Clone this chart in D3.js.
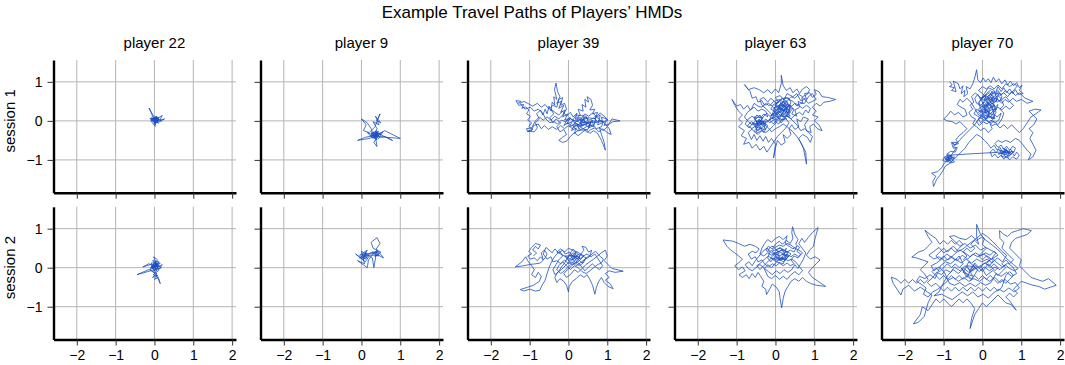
<!DOCTYPE html>
<html>
<head>
<meta charset="utf-8">
<script src="https://cdn.jsdelivr.net/npm/d3@7"></script>
<style>
  body { margin: 0; background: #fff; }
  svg { font-family: "Liberation Sans", Arial, sans-serif; }
</style>
</head>
<body>
<svg id="chart" width="1065" height="365"></svg>
<script>
// chart data
var chartTitle = "Example Travel Paths of Players\u2019 HMDs";
var players = ["player 22", "player 9", "player 39", "player 63", "player 70"];
var sessions = ["session 1", "session 2"];
var xTicks = [-2, -1, 0, 1, 2];
var yTicks = [-1, 0, 1];

// travel paths, "x,y" pairs (session 1 then session 2)
var p22s1 = "0.00,0.02 0.05,0.08 -0.03,0.05 0.08,-0.02 0.02,0.10 -0.08,0.04 0.10,0.05 0.04,-0.06 -0.05,0.00 0.12,0.08 0.00,0.04 -0.12,0.06 0.06,0.00 0.02,-0.10 -0.02,0.12 -0.14,0.33 -0.04,0.10 0.08,0.06 0.20,0.14 0.14,0.02 0.26,0.05 0.10,-0.04 0.04,0.06 -0.06,-0.04 0.02,-0.14 0.00,0.02 0.08,0.10 -0.10,0.02 0.05,0.03 0.18,0.00 0.06,0.09 -0.04,0.06 0.10,-0.06 0.02,0.00 -0.08,0.08 0.07,0.04 0.00,-0.04 0.04,0.12 -0.02,0.02 0.12,0.03 0.03,-0.02 -0.06,0.07 0.09,0.01 0.01,0.08 -0.09,-0.02 0.06,0.11 0.11,-0.01 -0.02,-0.06 0.03,0.05 -0.07,0.01 0.08,0.04 0.00,0.09 0.05,-0.03";
var p9s1 = "0.30,-0.35 0.42,-0.30 0.35,-0.45 0.25,-0.32 0.45,-0.40 0.38,-0.25 0.28,-0.42 0.50,-0.35 0.34,-0.30 0.40,-0.48 0.22,-0.38 0.36,-0.36 0.55,-0.28 0.44,-0.46 0.30,-0.28 0.38,-0.40 1.00,-0.45 0.60,-0.25 0.45,-0.35 0.32,-0.55 0.40,-0.66 0.36,-0.40 0.20,-0.45 -0.10,-0.50 0.10,-0.42 0.30,-0.38 0.25,-0.20 0.15,-0.05 0.00,0.05 0.12,-0.10 0.05,-0.25 0.20,-0.30 0.35,-0.15 0.42,0.05 0.48,0.18 0.40,0.00 0.50,-0.05 0.36,0.12 0.45,-0.10 0.30,-0.02 0.40,-0.20 0.35,-0.32 0.48,-0.42 0.60,-0.40 0.80,-0.50 0.55,-0.38 0.40,-0.30 0.30,-0.45 0.15,-0.30 0.34,-0.38 0.44,-0.26 0.32,-0.34 0.28,-0.38 0.38,-0.33 0.33,-0.42 0.42,-0.36 0.26,-0.30 0.36,-0.28 0.46,-0.32 0.34,-0.40";
var p39s1 = "-1.30,0.45 -1.22,0.50 -1.35,0.52 -1.28,0.40 -1.15,0.42 -1.20,0.32 -1.10,0.36 -1.02,0.28 -1.08,0.18 -0.98,0.12 -1.05,0.02 -0.95,-0.05 -1.02,-0.15 -0.92,-0.22 -1.05,-0.26 -0.88,-0.28 -0.80,-0.18 -0.85,-0.05 -0.75,0.05 -0.82,0.18 -0.72,0.28 -0.66,0.15 -0.60,0.30 -0.55,0.18 -0.50,0.38 -0.45,0.25 -0.42,0.48 -0.35,0.40 -0.38,0.62 -0.30,0.55 -0.36,0.80 -0.32,0.97 -0.28,0.75 -0.22,0.62 -0.30,0.45 -0.18,0.50 -0.25,0.32 -0.12,0.40 -0.20,0.22 -0.08,0.28 -0.15,0.10 -0.02,0.18 -0.10,0.02 0.05,0.08 -0.05,-0.08 0.10,-0.02 0.02,-0.15 0.15,-0.10 0.08,-0.25 0.20,-0.18 0.15,-0.32 0.28,-0.22 0.22,-0.08 0.35,-0.12 0.30,0.02 0.42,-0.05 0.38,0.10 0.50,0.05 0.45,-0.10 0.58,-0.02 0.52,-0.18 0.65,-0.12 0.60,0.02 0.72,-0.05 0.68,0.12 0.80,0.05 0.75,-0.10 0.88,-0.05 0.85,0.10 0.98,0.05 0.92,-0.12 1.05,-0.08 1.15,-0.02 1.33,0.00 1.12,0.05 1.00,-0.15 0.90,-0.25 0.80,-0.18 0.85,-0.35 0.92,-0.55 0.95,-0.75 0.85,-0.50 0.75,-0.32 0.65,-0.25 0.55,-0.32 0.45,-0.22 0.35,-0.30 0.25,-0.38 0.15,-0.30 0.05,-0.40 -0.05,-0.52 -0.15,-0.55 -0.25,-0.50 -0.15,-0.42 -0.05,-0.35 -0.12,-0.22 -0.22,-0.28 -0.30,-0.15 -0.20,-0.05 -0.32,0.05 -0.40,-0.05 -0.48,0.08 -0.38,0.18 -0.45,0.30 -0.35,0.22 -0.25,0.15 -0.15,0.25 -0.05,0.12 0.05,0.22 0.12,0.10 0.22,0.20 0.18,0.05 0.30,0.15 0.25,0.30 0.38,0.25 0.35,0.42 0.45,0.35 0.42,0.55 0.52,0.48 0.48,0.62 0.58,0.55 0.62,0.40 0.55,0.28 0.68,0.30 0.62,0.18 0.75,0.22 0.70,0.08 0.82,0.15 0.78,0.00 0.90,-0.02 0.85,-0.15 0.72,-0.20 0.62,-0.10 0.50,-0.15 0.40,-0.08 0.28,-0.12 0.18,-0.05 0.08,-0.12 -0.02,-0.05 -0.12,-0.12 -0.05,0.00 0.05,0.05 0.15,0.00 0.25,0.08 0.35,0.00 0.45,0.10 0.55,0.02 0.65,0.08 0.75,-0.02 0.85,0.02 0.95,-0.08 1.05,-0.20 1.10,-0.35 1.00,-0.30 0.88,-0.20 0.78,-0.28 0.68,-0.18 0.58,-0.22 0.48,-0.30 0.40,-0.20 0.30,-0.22 0.20,-0.12 0.10,-0.20 0.00,-0.12 -0.10,-0.20 -0.20,-0.12 -0.30,-0.22 -0.42,-0.15 -0.52,-0.22 -0.62,-0.12 -0.70,-0.20 -0.78,-0.08 -0.90,-0.12 -0.95,-0.25 -1.05,-0.28 -1.08,-0.20 -0.95,-0.18 -0.85,0.00 -0.75,0.10 -0.65,0.02 -0.55,0.10 -0.45,0.02 -0.35,0.12 -0.25,0.05 -0.15,0.15 -0.05,0.30 -0.10,0.45 -0.20,0.40 -0.15,0.60 -0.25,0.55 -0.30,0.35 -0.40,0.40 -0.50,0.30 -0.60,0.42 -0.70,0.35 -0.80,0.45 -0.92,0.38 -1.05,0.45 -1.15,0.50 -1.25,0.45 -1.12,0.30 -0.98,0.35 -0.88,0.25 -0.78,0.30 -0.68,0.22 -0.58,0.05 -0.48,-0.05 -0.38,-0.02 -0.28,-0.08 -0.18,0.02 -0.08,-0.02 0.02,0.08 0.12,0.02 0.22,-0.02 0.32,0.05 0.42,0.18 0.52,0.12 0.62,0.20 0.72,0.12 0.82,0.20 0.92,0.12 1.02,0.02 0.95,-0.02";
var p39s1Core = "0.30,-0.05 0.40,0.05 0.22,0.02 0.35,-0.12 0.48,-0.05 0.28,0.10 0.15,-0.08 0.38,-0.20 0.55,-0.10 0.45,0.12 0.20,0.15 0.10,0.00 0.32,-0.15 0.60,0.00 0.50,-0.22 0.25,-0.25 0.12,-0.15 0.42,-0.02 0.65,-0.15 0.70,0.05 0.52,0.08 0.35,0.02";
var p63s1 = "0.10,0.20 0.20,0.30 0.05,0.35 0.15,0.45 0.25,0.38 0.30,0.25 0.18,0.15 0.28,0.05 0.12,0.02 0.02,0.12 -0.08,0.05 -0.02,0.25 -0.12,0.30 -0.05,0.42 0.08,0.48 0.00,0.60 0.12,0.65 0.20,0.55 0.32,0.60 0.40,0.48 0.35,0.35 0.48,0.30 0.42,0.18 0.55,0.12 0.50,0.28 0.62,0.35 0.58,0.50 0.70,0.45 0.68,0.60 0.80,0.55 0.75,0.70 0.88,0.72 0.95,0.60 1.05,0.68 1.00,0.80 1.12,0.75 1.20,0.62 1.35,0.60 1.55,0.55 1.40,0.50 1.25,0.48 1.15,0.38 1.05,0.45 0.95,0.35 1.05,0.25 0.95,0.15 1.10,0.10 1.00,0.00 1.12,-0.10 1.20,-0.25 1.08,-0.20 0.98,-0.08 0.88,-0.15 0.92,-0.30 0.80,-0.25 0.75,-0.10 0.85,0.05 0.72,0.10 0.65,-0.02 0.55,0.05 0.60,-0.15 0.50,-0.22 0.42,-0.10 0.35,-0.20 0.40,-0.35 0.30,-0.45 0.20,-0.35 0.25,-0.55 0.15,-0.62 0.05,-0.50 0.00,-0.70 -0.05,-0.95 0.00,-0.60 -0.10,-0.45 -0.18,-0.55 -0.25,-0.40 -0.32,-0.52 -0.40,-0.38 -0.48,-0.50 -0.55,-0.35 -0.62,-0.48 -0.70,-0.30 -0.60,-0.20 -0.72,-0.12 -0.62,-0.02 -0.50,-0.10 -0.42,0.02 -0.35,-0.12 -0.25,-0.05 -0.30,-0.22 -0.40,-0.18 -0.50,-0.28 -0.45,-0.05 -0.55,0.05 -0.48,0.15 -0.38,0.08 -0.30,0.18 -0.20,0.10 -0.25,0.25 -0.35,0.30 -0.45,0.25 -0.55,0.35 -0.65,0.28 -0.72,0.40 -0.82,0.30 -0.90,0.42 -1.00,0.38 -1.12,0.55 -1.05,0.40 -0.95,0.25 -0.85,0.15 -0.95,0.05 -0.85,-0.05 -0.95,-0.15 -0.80,-0.25 -0.88,-0.38 -0.75,-0.45 -0.82,-0.60 -0.68,-0.55 -0.60,-0.70 -0.50,-0.60 -0.40,-0.75 -0.30,-0.65 -0.22,-0.80 -0.15,-0.70 -0.05,-0.55 0.05,-0.40 0.15,-0.30 0.25,-0.20 0.35,-0.05 0.25,0.08 0.15,-0.05 0.05,0.05 -0.05,-0.08 -0.15,0.02 -0.10,0.15 0.00,0.22 0.10,0.10 0.22,0.22 0.12,0.32 0.02,0.28 -0.08,0.38 -0.18,0.45 -0.28,0.40 -0.35,0.52 -0.45,0.48 -0.50,0.62 -0.60,0.58 -0.65,0.75 -0.80,0.93 -0.70,0.80 -0.55,0.85 -0.42,0.80 -0.30,0.72 -0.20,0.80 -0.10,0.70 0.00,0.82 0.08,0.72 0.15,0.95 0.15,1.17 0.20,0.90 0.28,0.78 0.38,0.85 0.45,0.72 0.55,0.82 0.62,0.70 0.70,0.82 0.80,0.88 0.88,0.80 0.82,0.68 0.70,0.62 0.60,0.68 0.50,0.58 0.40,0.62 0.30,0.50 0.20,0.42 0.10,0.38 0.20,0.28 0.30,0.35 0.38,0.22 0.30,0.12 0.40,0.05 0.50,0.15 0.62,0.22 0.70,0.15 0.78,0.28 0.85,0.20 0.90,0.32 0.80,0.40 0.70,0.32 0.60,0.40 0.50,0.45 0.42,0.38 0.32,0.42 0.22,0.35 0.12,0.25 0.05,0.15 -0.05,0.18 -0.15,0.12 -0.22,0.20 -0.32,0.10 -0.40,-0.02 -0.50,-0.15 -0.58,-0.05 -0.68,-0.18 -0.78,-0.08 -0.70,0.05 -0.60,0.12 -0.50,0.05 -0.40,0.15 -0.35,0.02 -0.28,-0.10 -0.18,-0.18 -0.10,-0.28 0.00,-0.20 0.10,-0.15 0.20,-0.08 0.30,-0.15 0.45,-0.28 0.55,-0.40 0.65,-0.55 0.78,-0.80 0.80,-1.11 0.72,-0.70 0.60,-0.45 0.70,-0.35 0.82,-0.42 0.90,-0.55 0.95,-0.40 0.85,-0.30 0.75,-0.20 0.65,-0.25 0.55,-0.10 0.45,0.00 0.35,0.10 0.25,0.15 0.15,0.20 0.05,0.25 -0.05,0.32 0.05,0.40 0.15,0.32 0.25,0.45 0.10,0.55 -0.02,0.50 -0.12,0.58 -0.20,0.48 -0.30,0.60 -0.40,0.55 -0.35,0.40 -0.25,0.32 -0.15,0.22 -0.05,0.10 0.05,0.00 -0.05,-0.12 -0.15,-0.22 -0.25,-0.30 -0.35,-0.25 -0.45,-0.35 -0.55,-0.25 -0.45,-0.15 -0.35,-0.05 -0.25,0.05 -0.15,-0.05 -0.05,0.02 0.08,-0.08 0.18,0.05 0.28,0.15 0.35,0.28 0.25,0.30 0.15,0.40 0.30,0.70 0.45,0.62 0.55,0.70 0.65,0.52 0.75,0.55 0.85,0.45 0.95,0.50 1.05,0.55 0.95,0.70 0.85,0.62 0.75,0.45 0.65,0.45 0.55,0.38 0.45,0.50 0.35,0.55 0.25,0.60 0.15,0.55 0.05,0.45 -0.05,0.50 -0.15,0.38 -0.25,0.45 -0.35,0.35 -0.45,0.38 -0.55,0.45 -0.62,0.30 -0.72,0.22 -0.80,0.10 -0.70,-0.02 -0.60,-0.10 -0.52,0.00 -0.42,-0.08 -0.32,-0.02 -0.20,0.00 -0.10,0.08 0.00,0.02 0.12,0.15 0.22,0.10";
var p63s1Core = "0.22,0.10 0.14,0.18 0.25,0.26 0.08,0.30 0.18,0.40 0.30,0.33 0.12,0.22 0.02,0.35 0.20,0.48 0.33,0.40 0.26,0.18 0.38,0.28 0.28,0.52 0.12,0.44 0.05,0.20 -0.06,0.28 0.06,0.10 0.18,0.02 0.30,0.14 0.40,0.38 0.22,0.36 0.10,0.52 -0.02,0.40 0.15,0.30 0.35,0.20 0.45,0.32 0.32,0.45 0.18,0.58 0.05,0.48 -0.08,0.18 0.10,0.05 0.24,0.30 0.38,0.12 0.16,0.12 0.00,0.25 0.12,0.38 0.28,0.42 -0.05,0.10 -0.20,-0.02 -0.40,-0.10 -0.30,-0.02 -0.48,0.00 -0.35,-0.20 -0.52,-0.15 -0.42,0.05 -0.28,-0.12 -0.45,-0.25 -0.58,-0.08 -0.38,-0.05 -0.25,-0.20 -0.50,-0.32 -0.62,-0.20 -0.45,-0.10 -0.32,0.08 -0.55,0.10 -0.40,-0.18 -0.30,-0.30 -0.20,-0.12 -0.35,0.00 -0.50,-0.05";
var p70s1 = "-0.84,1.00 -0.78,0.92 -0.85,0.88 -0.72,0.85 -0.80,0.78 -0.68,0.75 -0.75,1.02 -0.62,0.95 -0.58,0.82 -0.50,0.90 -0.55,0.70 -0.45,0.78 -0.48,0.62 -0.38,0.70 -0.42,0.88 -0.32,0.82 -0.25,0.95 -0.20,1.10 -0.15,1.31 -0.12,1.05 -0.05,0.98 0.02,1.10 0.08,1.00 0.15,1.08 0.22,0.98 0.28,1.12 0.35,1.00 0.42,1.08 0.50,0.95 0.58,1.05 0.65,0.92 0.72,1.02 0.80,0.90 0.88,0.98 0.95,0.85 1.02,0.92 0.95,0.78 1.05,0.70 0.92,0.68 0.85,0.80 0.78,0.70 0.70,0.82 0.62,0.72 0.55,0.85 0.48,0.75 0.40,0.88 0.35,0.75 0.45,0.65 0.55,0.72 0.65,0.62 0.75,0.75 0.85,0.65 0.95,0.72 1.10,0.58 1.30,0.50 1.15,0.45 1.00,0.55 0.88,0.50 0.78,0.58 0.68,0.48 0.58,0.55 0.50,0.45 0.40,0.55 0.30,0.48 0.22,0.60 0.12,0.52 0.05,0.65 -0.05,0.55 -0.12,0.68 -0.20,0.58 -0.15,0.45 -0.05,0.40 0.05,0.48 0.15,0.38 0.25,0.45 0.32,0.35 0.40,0.42 0.35,0.28 0.25,0.30 0.15,0.22 0.05,0.30 -0.05,0.22 -0.15,0.30 -0.22,0.18 -0.12,0.12 -0.02,0.05 0.08,0.15 0.18,0.08 0.28,0.18 0.38,0.10 0.48,0.20 0.42,0.02 0.32,-0.05 0.22,0.02 0.12,-0.08 0.02,-0.02 -0.08,-0.12 -0.15,-0.02 -0.05,0.10 0.05,0.00 0.15,0.12 0.25,0.05 0.35,0.22 0.28,0.40 0.18,0.32 0.08,0.42 -0.02,0.35 -0.10,0.48 0.00,0.58 0.10,0.70 0.20,0.78 0.30,0.68 0.40,0.78 0.50,0.62 0.45,0.50 0.35,0.58 0.25,0.50 0.15,0.60 0.05,0.52 -0.08,0.62 -0.18,0.72 -0.28,0.62 -0.22,0.48 -0.32,0.40 -0.25,0.30 -0.35,0.22 -0.28,0.10 -0.18,0.05 -0.25,-0.08 -0.15,-0.15 -0.05,-0.25 0.05,-0.18 0.15,-0.30 0.25,-0.20 0.20,-0.08 0.30,0.00 0.40,-0.10 0.50,0.05 0.55,0.20 0.45,0.30 0.55,0.40 0.48,0.55 0.38,0.48 0.28,0.55 0.18,0.45 0.08,0.35 -0.02,0.25 0.08,0.20 0.18,0.28 0.12,0.05 0.02,0.10 -0.10,0.15 -0.20,0.32 -0.30,0.48 -0.40,0.58 -0.50,0.48 -0.58,0.55 -0.65,0.42 -0.55,0.35 -0.45,0.30 -0.40,0.15 -0.50,0.10 -0.62,0.22 -0.72,0.15 -0.82,0.25 -0.92,0.12 -1.00,0.05 -0.90,0.00 -0.78,-0.02 -0.68,-0.08 -0.58,-0.02 -0.48,-0.12 -0.40,-0.20 -0.50,-0.30 -0.60,-0.38 -0.68,-0.48 -0.62,-0.58 -0.72,-0.62 -0.80,-0.55 -0.75,-0.70 -0.65,-0.68 -0.70,-0.80 -0.82,-0.78 -0.92,-0.85 -0.85,-0.95 -0.98,-0.92 -1.02,-1.02 -0.90,-1.05 -0.80,-0.98 -0.72,-1.05 -0.82,-1.08 -0.95,-1.00 -0.88,-0.90 -0.78,-0.92 -0.88,-1.00 -0.98,-1.08 -1.05,-1.20 -1.15,-1.30 -1.31,-1.34 -1.20,-1.42 -1.28,-1.55 -1.26,-1.68 -1.18,-1.50 -1.10,-1.40 -1.02,-1.28 -0.95,-1.15 -0.85,-1.10 -0.75,-1.00 -0.65,-0.90 -0.55,-0.80 -0.45,-0.70 -0.35,-0.55 -0.25,-0.45 -0.15,-0.35 -0.05,-0.40 0.05,-0.50 0.15,-0.60 0.22,-0.70 0.30,-0.62 0.38,-0.75 0.45,-0.68 0.52,-0.80 0.60,-0.72 0.68,-0.85 0.75,-0.78 0.82,-0.90 0.88,-0.80 0.95,-0.88 0.88,-0.98 0.78,-0.92 0.70,-1.00 0.62,-0.90 0.55,-0.98 0.48,-0.88 0.40,-0.95 0.32,-0.85 0.25,-0.92 0.20,-0.80 0.28,-0.72 0.35,-0.82 0.42,-0.72 0.50,-0.85 0.58,-0.78 0.65,-0.90 0.72,-0.72 0.80,-0.82 0.85,-0.70 0.78,-0.65 0.70,-0.75 0.62,-0.65 0.55,-0.72 0.48,-0.62 0.40,-0.68 0.32,-0.58 0.40,-0.50 0.50,-0.55 0.60,-0.50 0.72,-0.55 0.85,-0.45 0.95,-0.50 1.05,-0.62 1.15,-0.75 1.25,-0.85 1.18,-1.00 1.30,-0.92 1.38,-0.75 1.30,-0.60 1.22,-0.45 1.30,-0.30 1.20,-0.20 1.32,-0.10 1.40,0.05 1.30,0.15 1.20,0.25 1.35,0.30 1.51,0.28 1.40,0.20 1.25,0.10 1.15,-0.05 1.05,-0.20 0.95,-0.30 0.85,-0.20 0.75,-0.10 0.65,-0.20 0.55,-0.10 0.45,-0.18 0.35,-0.08 0.25,-0.12 0.15,-0.02 0.05,0.05 -0.05,-0.05 -0.10,0.05 0.00,0.15 0.10,0.25 0.20,0.18 0.30,0.28 0.40,0.35 0.50,0.28 0.60,0.38 0.70,0.30 0.80,0.40 0.70,0.50 0.60,0.62 0.50,0.55 0.40,0.65 0.30,0.58 0.20,0.68 0.10,0.60 0.00,0.70 -0.10,0.78 0.00,0.88 0.10,0.82 0.20,0.90 0.30,0.82 0.40,0.92 0.50,0.82 0.60,0.95 0.70,0.88 0.80,0.95 0.90,0.90 0.80,0.78 0.70,0.68 0.60,0.78 0.50,0.68 0.40,0.72 0.30,0.62 0.20,0.50 0.10,0.42 0.00,0.32 -0.10,0.22 0.00,0.12 0.10,0.02 0.20,-0.05 0.30,0.08 0.20,0.12 0.10,0.20 0.00,0.40 -0.10,0.30";
var p70s1Core = "0.10,0.05 0.18,0.20 0.05,0.35 0.22,0.48 0.12,0.62 0.28,0.72 0.15,0.55 0.30,0.40 0.18,0.28 0.02,0.45 0.10,0.65 -0.05,0.58 0.08,0.30 0.25,0.15 0.35,0.30 0.22,0.60 0.38,0.55 0.30,0.78 0.15,0.85 0.05,0.70 -0.10,0.45 0.00,0.20 0.12,0.10 0.28,0.25 0.20,0.42 0.35,0.50 0.42,0.68 0.25,0.75 0.10,0.52 0.22,0.35 0.05,0.25 0.15,0.12 0.32,0.05 0.25,0.38 0.12,0.48 0.30,0.62 0.18,0.72 0.02,0.62 0.15,0.40 -0.20,-0.10 -0.50,-0.40 -0.70,-0.62 -0.78,-0.55 -0.65,-0.55 -0.75,-0.65 -0.68,-0.70 -0.85,-0.95 -0.78,-0.88 -0.92,-0.90 -0.82,-1.02 -0.95,-0.98 -0.75,-0.95 -0.88,-0.85 -0.98,-0.95 -0.80,-1.05 -0.72,-0.92 -0.90,-1.00 -0.85,-0.88 -0.40,-0.85 0.50,-0.80 0.62,-0.75 0.55,-0.88 0.70,-0.82 0.45,-0.75 0.60,-0.92 0.75,-0.85 0.52,-0.70 0.68,-0.78 0.40,-0.85 0.58,-0.82 0.80,-0.78 0.65,-0.95 0.48,-0.90 0.62,-0.70";
var p22s2 = "0.00,0.00 0.08,0.10 -0.05,0.05 0.10,-0.05 0.02,0.15 -0.10,0.00 0.12,0.05 0.00,-0.08 -0.08,0.12 0.15,0.12 0.05,0.02 -0.12,-0.05 0.08,0.20 -0.02,0.28 0.05,0.10 0.18,0.00 0.00,-0.05 -0.45,-0.18 -0.15,-0.05 0.05,-0.15 -0.05,-0.25 0.08,-0.20 0.00,-0.30 0.10,-0.25 0.15,-0.41 0.05,-0.18 -0.05,-0.10 0.10,0.02 -0.05,0.18 0.12,0.15 0.02,0.05 -0.15,0.10 -0.30,0.02 -0.10,0.08 0.05,-0.02 0.20,0.08 0.08,-0.10 -0.02,0.02 0.06,0.12 -0.06,-0.02 0.10,0.06 0.00,0.10 0.04,-0.04 -0.04,0.08 0.09,0.03 -0.08,0.04 0.03,-0.12 -0.03,-0.18 0.06,-0.22 0.02,0.06 0.11,0.10 -0.02,0.13";
var p9s2 = "0.10,0.30 0.00,0.35 0.15,0.25 -0.05,0.25 0.12,0.40 0.05,0.20 -0.15,0.35 0.10,0.15 0.20,0.30 0.00,0.42 0.08,0.10 -0.10,0.18 0.15,0.00 0.18,0.20 0.30,0.35 0.40,0.45 0.35,0.28 0.45,0.38 0.28,0.40 0.40,0.30 0.50,0.40 0.30,0.50 0.25,0.65 0.40,0.77 0.48,0.62 0.38,0.48 0.57,0.25 0.38,0.35 0.32,0.00 0.28,0.25 0.12,0.35 0.05,0.28 0.15,0.45 -0.05,0.32 0.10,0.22 0.22,0.38 0.38,0.40 0.45,0.30 0.32,0.32 0.08,0.32 0.02,0.26 0.14,0.30 0.06,0.36 0.36,0.36 0.42,0.42 0.34,0.40";
var p39s2 = "-0.90,0.30 -0.82,0.38 -0.92,0.45 -0.85,0.55 -0.78,0.48 -0.72,0.58 -0.85,0.62 -0.95,0.52 -1.02,0.42 -0.95,0.35 -1.05,0.30 -0.98,0.22 -0.88,0.25 -0.80,0.18 -0.72,0.28 -0.65,0.20 -0.70,0.38 -0.62,0.45 -0.55,0.35 -0.60,0.25 -0.72,0.12 -0.85,0.10 -1.00,0.08 -1.15,0.05 -1.37,0.02 -1.20,0.15 -1.10,0.28 -1.05,0.18 -0.95,0.05 -0.88,-0.05 -0.95,-0.18 -0.85,-0.25 -0.78,-0.12 -0.70,-0.22 -0.75,-0.35 -0.90,-0.45 -1.05,-0.50 -1.24,-0.56 -1.15,-0.60 -1.00,-0.55 -0.85,-0.60 -0.74,-0.58 -0.68,-0.45 -0.60,-0.32 -0.55,-0.15 -0.50,0.00 -0.45,0.12 -0.38,0.25 -0.30,0.35 -0.22,0.42 -0.15,0.30 -0.25,0.20 -0.32,0.08 -0.40,-0.05 -0.35,-0.18 -0.25,-0.10 -0.18,0.02 -0.10,0.12 -0.02,0.25 0.05,0.38 0.12,0.48 0.20,0.40 0.15,0.28 0.25,0.22 0.32,0.35 0.40,0.45 0.35,0.55 0.45,0.52 0.52,0.40 0.60,0.45 0.55,0.30 0.45,0.25 0.38,0.12 0.28,0.05 0.18,0.12 0.08,0.05 -0.02,-0.05 -0.12,-0.15 -0.05,-0.25 0.05,-0.18 0.15,-0.05 0.25,-0.12 0.35,-0.02 0.45,0.08 0.55,0.15 0.65,0.22 0.75,0.30 0.85,0.38 0.95,0.45 1.00,0.30 0.92,0.18 1.02,0.08 1.12,-0.02 1.25,-0.05 1.41,-0.09 1.20,-0.12 1.05,-0.08 0.95,-0.15 1.05,-0.25 0.95,-0.32 1.08,-0.42 1.15,-0.54 1.02,-0.48 0.92,-0.38 0.85,-0.25 0.78,-0.35 0.72,-0.50 0.68,-0.68 0.62,-0.45 0.55,-0.30 0.48,-0.18 0.40,-0.25 0.30,-0.18 0.20,-0.28 0.10,-0.35 0.02,-0.48 0.00,-0.62 -0.05,-0.45 -0.12,-0.35 -0.22,-0.28 -0.30,-0.38 -0.35,-0.25 -0.28,-0.12 -0.18,-0.05 -0.08,0.05 0.02,0.15 0.12,0.22 0.22,0.30 0.30,0.22 0.38,0.30 0.48,0.35 0.58,0.28 0.68,0.35 0.78,0.20 0.88,0.05 0.80,-0.05 0.70,0.02 0.62,0.10 0.52,0.02 0.42,-0.08 0.32,0.05 0.22,0.15 0.12,0.30 0.02,0.40 -0.08,0.35 -0.15,0.45 -0.25,0.38 -0.35,0.48 -0.42,0.38 -0.50,0.45 -0.58,0.52 -0.65,0.35 -0.55,0.22 -0.45,0.28 -0.40,0.15 -0.30,0.18 -0.20,0.10 -0.10,0.20 0.00,0.10 0.10,0.15 0.20,0.05 0.30,0.12 0.40,0.20 0.50,0.25 0.60,0.35 0.70,0.42 0.80,0.30 0.90,0.22 0.85,0.12 0.75,0.08 0.65,0.00 0.55,-0.08 0.45,-0.15 0.35,-0.10 0.25,0.00 0.15,0.05 0.05,-0.05 -0.05,0.05 -0.15,0.15 -0.25,0.05 -0.30,-0.05 -0.20,-0.15 -0.10,-0.08 0.00,0.02 0.10,0.12 0.20,0.22 0.30,0.30 0.20,0.38 0.10,0.45 0.00,0.50 -0.10,0.40 -0.20,0.48 -0.30,0.40";
var p39s2Core = "0.10,0.20 0.22,0.28 0.05,0.32 0.18,0.12 0.30,0.25 0.12,0.38 -0.05,0.25 0.08,0.08 0.25,0.15 0.40,0.30 0.20,0.42 0.02,0.18 -0.10,0.30 0.15,0.30 0.35,0.12 0.45,0.25 0.28,0.35 0.10,0.25";
var p63s2 = "0.00,0.30 0.10,0.38 0.02,0.45 0.12,0.52 0.20,0.42 0.28,0.50 0.22,0.32 0.32,0.28 0.25,0.18 0.15,0.25 0.05,0.18 -0.05,0.25 -0.12,0.15 -0.20,0.25 -0.15,0.38 -0.25,0.45 -0.18,0.55 -0.08,0.48 0.00,0.60 0.10,0.68 0.18,0.60 0.28,0.70 0.38,0.62 0.45,0.75 0.42,0.90 0.44,1.05 0.50,0.85 0.58,0.72 0.52,0.60 0.62,0.52 0.55,0.42 0.65,0.35 0.58,0.25 0.48,0.30 0.40,0.20 0.48,0.10 0.38,0.05 0.30,0.12 0.20,0.05 0.10,0.12 0.02,0.05 -0.08,0.10 -0.18,0.02 -0.28,0.10 -0.35,0.20 -0.45,0.15 -0.52,0.28 -0.62,0.22 -0.70,0.35 -0.60,0.42 -0.50,0.38 -0.42,0.48 -0.52,0.55 -0.65,0.60 -0.80,0.55 -0.95,0.62 -1.10,0.68 -1.35,0.71 -1.25,0.55 -1.15,0.45 -1.05,0.38 -0.95,0.30 -0.85,0.22 -0.95,0.12 -1.05,0.05 -0.95,-0.05 -0.85,0.02 -0.78,-0.08 -0.94,-0.18 -0.85,-0.25 -0.75,-0.18 -0.68,-0.28 -0.60,-0.15 -0.52,-0.25 -0.45,-0.12 -0.38,-0.22 -0.30,-0.35 -0.35,-0.48 -0.25,-0.55 -0.23,-0.69 -0.15,-0.55 -0.08,-0.42 0.02,-0.50 0.10,-0.62 0.12,-0.80 0.16,-1.03 0.20,-0.78 0.25,-0.60 0.32,-0.48 0.40,-0.35 0.50,-0.28 0.60,-0.35 0.70,-0.25 0.80,-0.35 0.90,-0.40 1.05,-0.45 1.29,-0.48 1.10,-0.35 0.95,-0.25 0.85,-0.12 0.95,0.00 1.05,0.10 1.15,0.20 1.02,0.28 0.90,0.22 0.80,0.32 0.88,0.45 0.98,0.55 1.02,0.75 1.10,1.03 0.95,0.90 0.85,0.78 0.75,0.65 0.68,0.75 0.60,0.62 0.70,0.48 0.78,0.38 0.72,0.22 0.65,0.10 0.58,-0.02 0.50,0.08 0.42,-0.05 0.32,-0.12 0.22,-0.05 0.12,-0.15 0.02,-0.08 -0.08,-0.18 -0.18,-0.10 -0.28,-0.02 -0.20,0.08 -0.10,0.00 0.00,0.12 0.10,0.22 0.20,0.15 0.30,0.25 0.40,0.35 0.30,0.42 0.20,0.35 0.10,0.30 0.00,0.40 -0.10,0.32 -0.20,0.38 -0.30,0.30 -0.40,0.35 -0.35,0.50 -0.28,0.62 -0.20,0.72 -0.10,0.65 0.00,0.75 0.10,0.80 0.20,0.72 0.30,0.82 0.25,0.62 0.35,0.55 0.45,0.48 0.55,0.55 0.48,0.40 0.38,0.45 0.28,0.38 0.18,0.48 0.08,0.40 -0.02,0.50 -0.12,0.42 -0.22,0.50 -0.32,0.42 -0.42,0.30 -0.52,0.18 -0.60,0.05 -0.68,0.15 -0.78,0.08 -0.70,-0.02 -0.60,-0.08 -0.50,0.00 -0.40,0.08 -0.30,0.00 -0.20,-0.22 -0.10,-0.28 0.00,-0.20 0.10,-0.30 0.20,-0.22 0.30,-0.30 0.40,-0.18 0.50,-0.10 0.60,-0.18 0.70,-0.08 0.62,0.02 0.52,0.15 0.42,0.22 0.32,0.18 0.22,0.25 0.12,0.20 0.02,0.28 -0.08,0.22 -0.18,0.30 -0.28,0.22 -0.38,0.12 -0.48,0.05 -0.40,-0.05 -0.30,0.05 -0.20,0.15 -0.10,0.25 0.00,0.20 0.10,0.28 0.20,0.25 0.30,0.35 0.40,0.28 0.50,0.35 0.60,0.28 0.70,0.38 0.60,0.45 0.50,0.50 0.40,0.58 0.30,0.62 0.20,0.55 0.10,0.58 0.00,0.52 -0.10,0.55 -0.20,0.45 -0.10,0.38 0.00,0.35 0.10,0.32";
var p63s2Core = "0.05,0.30 0.15,0.22 0.22,0.35 0.08,0.42 -0.05,0.32 0.10,0.18 0.28,0.28 0.18,0.45 0.00,0.38 -0.12,0.25 0.02,0.15 0.20,0.10 0.32,0.40 0.12,0.50 -0.08,0.42 0.05,0.25 0.25,0.20 0.35,0.30 0.15,0.35";
var p70s2 = "-0.50,0.20 -0.40,0.30 -0.50,0.40 -0.40,0.50 -0.30,0.40 -0.20,0.50 -0.30,0.60 -0.20,0.70 -0.10,0.60 -0.15,0.80 -0.15,1.11 -0.05,0.85 0.05,0.75 0.00,0.60 0.10,0.50 0.00,0.40 -0.10,0.30 0.00,0.20 0.10,0.30 0.20,0.20 0.10,0.10 0.20,0.00 0.30,0.10 0.40,0.00 0.30,-0.10 0.40,-0.20 0.50,-0.10 0.60,0.00 0.50,0.10 0.60,0.20 0.70,0.10 0.80,0.20 0.70,0.30 0.60,0.40 0.50,0.50 0.55,0.65 0.45,0.75 0.44,0.95 0.55,0.85 0.65,0.80 0.75,0.90 0.90,0.95 1.05,1.00 1.26,0.95 1.15,0.85 1.00,0.80 0.85,0.75 0.75,0.65 0.70,0.50 0.80,0.40 0.90,0.30 1.00,0.20 0.95,0.05 1.05,-0.05 1.15,-0.15 1.25,-0.25 1.40,-0.30 1.55,-0.35 1.70,-0.28 1.90,-0.45 1.75,-0.50 1.60,-0.55 1.45,-0.48 1.30,-0.45 1.15,-0.40 1.00,-0.35 0.90,-0.45 0.80,-0.55 0.90,-0.65 0.80,-0.75 0.70,-0.65 0.60,-0.75 0.70,-0.85 0.87,-1.09 0.75,-0.95 0.60,-0.90 0.50,-0.80 0.40,-0.70 0.30,-0.80 0.20,-0.90 0.10,-1.00 0.00,-0.90 -0.10,-1.05 -0.20,-1.20 -0.32,-1.56 -0.28,-1.30 -0.20,-1.05 -0.30,-0.90 -0.40,-0.80 -0.50,-0.90 -0.60,-0.80 -0.70,-0.90 -0.80,-1.00 -0.90,-0.90 -1.00,-0.80 -1.10,-0.90 -1.20,-0.80 -1.30,-0.95 -1.40,-1.10 -1.55,-1.00 -1.60,-1.20 -1.78,-1.44 -1.65,-1.40 -1.50,-1.25 -1.40,-0.90 -1.30,-0.70 -1.45,-0.60 -1.60,-0.50 -1.75,-0.60 -1.90,-0.45 -2.05,-0.55 -2.10,-0.70 -2.20,-0.55 -2.30,-0.40 -2.35,-0.24 -2.20,-0.30 -2.10,-0.40 -2.00,-0.30 -1.90,-0.40 -1.80,-0.30 -1.70,-0.40 -1.60,-0.30 -1.50,-0.40 -1.40,-0.30 -1.50,-0.15 -1.60,-0.05 -1.50,0.05 -1.40,0.15 -1.55,0.20 -1.70,0.25 -1.82,0.27 -1.65,0.40 -1.50,0.45 -1.40,0.55 -1.30,0.65 -1.40,0.80 -1.48,0.96 -1.35,0.85 -1.20,0.75 -1.10,0.60 -1.00,0.70 -0.90,0.60 -0.80,0.70 -0.70,0.60 -0.60,0.70 -0.50,0.60 -0.60,0.50 -0.70,0.40 -0.80,0.50 -0.90,0.40 -1.00,0.50 -1.10,0.40 -1.20,0.30 -1.10,0.20 -1.00,0.30 -0.90,0.20 -0.80,0.30 -0.70,0.20 -0.60,0.30 -0.50,0.10 -0.60,0.00 -0.70,0.10 -0.80,0.00 -0.90,0.10 -1.00,0.00 -1.10,-0.10 -1.20,0.00 -1.30,-0.10 -1.20,-0.20 -1.10,-0.30 -1.00,-0.20 -0.90,-0.30 -0.80,-0.20 -0.70,-0.30 -0.60,-0.20 -0.50,-0.30 -0.40,-0.20 -0.30,-0.30 -0.20,-0.20 -0.10,-0.30 0.00,-0.20 0.10,-0.30 0.20,-0.20 0.30,-0.30 0.40,-0.40 0.50,-0.30 0.60,-0.40 0.70,-0.30 0.80,-0.20 0.70,-0.10 0.60,-0.20 0.50,-0.50 0.40,-0.60 0.30,-0.50 0.20,-0.60 0.10,-0.50 0.00,-0.60 -0.10,-0.50 -0.20,-0.60 -0.30,-0.50 -0.40,-0.60 -0.50,-0.50 -0.60,-0.60 -0.70,-0.50 -0.80,-0.60 -0.90,-0.50 -1.00,-0.60 -1.10,-0.50 -1.20,-0.40 -1.32,-0.48 -1.42,-0.38 -1.28,-0.25 -1.18,-0.12 -1.05,-0.18 -0.95,-0.05 -0.82,-0.12 -0.72,0.02 -0.58,-0.08 -0.45,0.05 -0.32,-0.06 -0.22,0.08 -0.08,-0.02 0.05,0.12 0.18,0.05 0.28,0.18 0.15,0.28 0.02,0.35 -0.12,0.28 -0.25,0.35 -0.38,0.22 -0.52,0.32 -0.65,0.18 -0.78,0.25 -0.92,0.35 -1.05,0.22 -1.18,0.12 -1.32,0.05 -1.25,-0.08 -1.12,0.02 -0.98,-0.12 -0.85,-0.40 -0.72,-0.45 -0.58,-0.38 -0.45,-0.48 -0.32,-0.40 -0.18,-0.48 -0.05,-0.38 0.08,-0.45 0.22,-0.38 0.35,-0.15 0.48,-0.22 0.62,-0.12 0.75,-0.22 0.88,-0.15 0.78,0.02 0.65,0.12 0.52,0.02 0.38,0.12 0.25,0.25 0.35,0.38 0.22,0.45 0.08,0.52 -0.05,0.45 -0.18,0.58 -0.32,0.50 -0.45,0.62 -0.58,0.55 -0.72,0.68 -0.85,0.80 -0.72,0.82 -0.58,0.75 -0.42,0.72 -0.28,0.82 -0.15,0.70 -0.02,0.78 0.12,0.68 0.25,0.58 0.38,0.48 0.48,0.38 0.58,0.28 0.68,0.18 0.80,0.08 0.92,-0.02 0.82,-0.08 0.70,-0.02 0.58,0.08 0.45,-0.05 0.32,0.02 0.18,-0.08 0.05,0.02 -0.08,-0.10 -0.20,0.00 -0.35,-0.12 -0.48,-0.02 -0.62,-0.15 -0.75,-0.05 -0.88,-0.18 -1.00,-0.38 -1.12,-0.62 -1.25,-0.72 -1.05,-0.68 -0.92,-0.75 -0.78,-0.82 -0.65,-0.72 -0.52,-0.62 -0.38,-0.72 -0.25,-0.62 -0.12,-0.75 0.02,-0.68 0.15,-0.78 0.28,-0.65 0.42,-0.55 0.55,-0.62 0.68,-0.52 0.82,-0.62 0.95,-0.52 0.85,-0.38 0.72,-0.42 0.58,-0.30 0.45,-0.38 0.32,-0.25 0.18,-0.35 0.05,-0.25 -0.08,-0.35 -0.22,-0.28 -0.35,-0.35 -0.48,-0.25 -0.62,-0.35 -0.75,-0.25 -0.88,-0.32 -1.02,-0.45 -1.15,-0.55 -1.28,-0.62 -1.40,-0.75 -1.52,-0.68 -1.45,-0.52 -1.58,-0.42 -1.70,-0.35 -1.62,-0.22 -1.48,-0.28 -1.35,-0.18 -1.22,-0.28 -1.08,0.05 -0.95,0.15 -0.82,0.10 -0.68,0.22 -0.55,0.12 -0.42,0.22 -0.28,0.12 -0.15,0.22 -0.02,0.15 0.12,0.22 0.25,0.12 0.38,0.25 0.52,0.15 0.62,0.32 0.50,0.42 0.38,0.55 0.25,0.68 0.12,0.80 0.00,0.88 -0.12,0.78 -0.25,0.68 -0.38,0.58 -0.50,0.48 -0.62,0.42 -0.75,0.55 -0.88,0.45 -1.00,0.38 -1.12,0.52 -1.25,0.42 -1.38,0.32 -1.25,0.22 -1.12,0.28 -0.98,0.18 -0.85,0.22 -0.72,0.35 -0.58,0.45 -0.45,0.38 -0.32,0.28 -0.18,0.38 -0.05,0.30 0.08,0.38 0.20,0.32 0.30,0.42 0.40,0.32";
var p70s2Core = "-0.30,-0.10 -0.18,0.02 -0.40,0.05 -0.25,-0.22 -0.50,-0.12 -0.35,0.15 -0.12,-0.05 -0.28,-0.30 -0.55,0.00 -0.40,-0.25 -0.20,0.12 0.00,-0.10 0.15,0.10 0.30,-0.05 0.10,-0.20 -0.05,0.05";

var paths = [
  [p22s1, p9s1, p39s1 + " " + p39s1Core, p63s1 + " " + p63s1Core, p70s1 + " " + p70s1Core],
  [p22s2, p9s2, p39s2 + " " + p39s2Core, p63s2 + " " + p63s2Core, p70s2 + " " + p70s2Core],
];

function parsePath(str) {
  return str.split(" ").map(function (pair) {
    var v = pair.split(",");
    return [+v[0], +v[1]];
  });
}

var dimensions = {
  panelWidth: 182.5,
  panelHeight: 132.7,
  left: 53.5,
  top: 60,
  colStep: 207,
  rowStep: 146.8,
};

var svg = d3.select("#chart");

var xScale = d3
  .scaleLinear()
  .domain([-2.6, 2.1])
  .range([0, dimensions.panelWidth]);
var yScale = d3
  .scaleLinear()
  .domain([-1.84, 1.56])
  .range([dimensions.panelHeight, 0]);

var line = d3
  .line()
  .x(function (d) {
    return xScale(d[0]);
  })
  .y(function (d) {
    return yScale(d[1]);
  });

// title
svg
  .append("text")
  .attr("x", 532)
  .attr("y", 18)
  .attr("text-anchor", "middle")
  .style("font-size", "17px")
  .text(chartTitle);

// column titles
svg
  .selectAll(".colTitle")
  .data(players)
  .enter()
  .append("text")
  .attr("class", "colTitle")
  .attr("x", function (d, i) {
    return dimensions.left + i * dimensions.colStep + xScale(0);
  })
  .attr("y", 48)
  .attr("text-anchor", "middle")
  .style("font-size", "15px")
  .text(function (d) {
    return d;
  });

// row labels
svg
  .selectAll(".rowTitle")
  .data(sessions)
  .enter()
  .append("text")
  .attr("class", "rowTitle")
  .attr("transform", function (d, i) {
    var cy = dimensions.top + i * dimensions.rowStep + yScale(0);
    return "translate(15," + cy + ") rotate(-90)";
  })
  .attr("text-anchor", "middle")
  .style("font-size", "15px")
  .text(function (d) {
    return d;
  });

for (var r = 0; r < sessions.length; r++) {
  for (var c = 0; c < players.length; c++) {
    var g = svg
      .append("g")
      .attr(
        "transform",
        "translate(" +
          (dimensions.left + c * dimensions.colStep) +
          "," +
          (dimensions.top + r * dimensions.rowStep) +
          ")"
      );

    // grid
    g.selectAll(".vgrid")
      .data(xTicks)
      .enter()
      .append("line")
      .attr("x1", function (d) {
        return xScale(d);
      })
      .attr("x2", function (d) {
        return xScale(d);
      })
      .attr("y1", 0)
      .attr("y2", dimensions.panelHeight)
      .attr("stroke", "#b4b4b4")
      .attr("stroke-width", 1);
    g.selectAll(".hgrid")
      .data(yTicks)
      .enter()
      .append("line")
      .attr("x1", 0)
      .attr("x2", dimensions.panelWidth)
      .attr("y1", function (d) {
        return yScale(d);
      })
      .attr("y2", function (d) {
        return yScale(d);
      })
      .attr("stroke", "#b4b4b4")
      .attr("stroke-width", 1);

    // travel path
    g.append("path")
      .datum(parsePath(paths[r][c]))
      .attr("d", line)
      .attr("fill", "none")
      .attr("stroke", "#1d4fc2")
      .attr("stroke-width", 0.8)
      .attr("stroke-linejoin", "round");

    // axes
    var xAxis = d3
      .axisBottom(xScale)
      .tickValues(xTicks)
      .tickFormat(d3.format("d"))
      .tickSize(6)
      .tickSizeOuter(0)
      .tickPadding(5);
    if (r == 0) xAxis.tickFormat("");
    var yAxis = d3
      .axisLeft(yScale)
      .tickValues(yTicks)
      .tickFormat(d3.format("d"))
      .tickSize(6)
      .tickSizeOuter(0)
      .tickPadding(5);
    if (c != 0) yAxis.tickFormat("");

    var gx = g
      .append("g")
      .attr("transform", "translate(0," + dimensions.panelHeight + ")")
      .call(xAxis);
    var gy = g.append("g").call(yAxis);

    [gx, gy].forEach(function (a) {
      a.selectAll("text")
        .style("font-size", "14px")
        .style("font-family", "'Liberation Sans', Arial, sans-serif")
        .attr("fill", "#000");
      a.selectAll(".tick line").attr("stroke", "#333");
      a.select(".domain").attr("stroke", "#000").attr("stroke-width", 2.4);
    });
  }
}
</script>
</body>
</html>
